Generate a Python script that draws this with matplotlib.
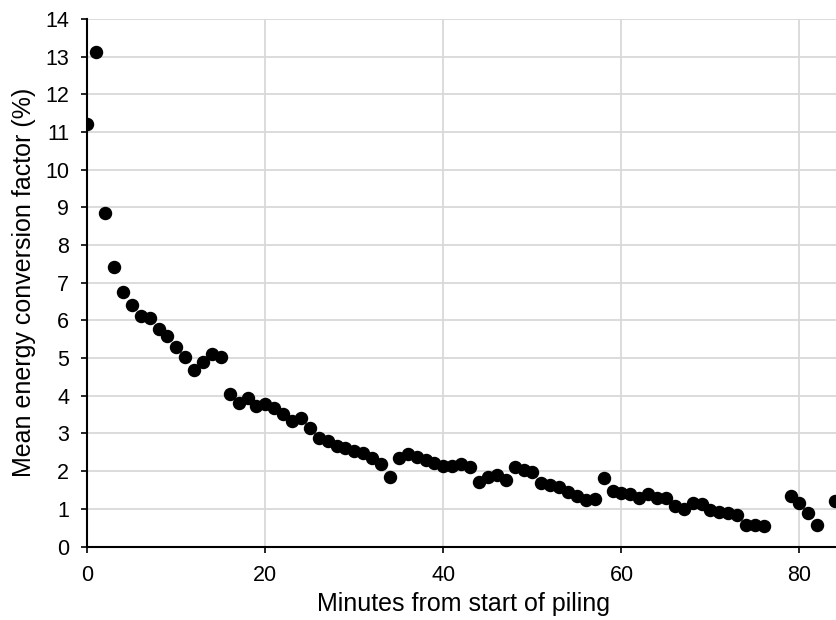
import numpy as np
import matplotlib.pyplot as plt

plt.rcParams['font.family'] = ['Liberation Sans', 'DejaVu Sans']

# --- Data ---
minutes = [0, 1, 2, 3, 4, 5, 6, 7, 8, 9,
           10, 11, 12, 13, 14, 15, 16, 17, 18, 19,
           20, 21, 22, 23, 24, 25, 26, 27, 28, 29,
           30, 31, 32, 33, 34, 35, 36, 37, 38, 39,
           40, 41, 42, 43, 44, 45, 46, 47, 48, 49,
           50, 51, 52, 53, 54, 55, 56, 57, 58, 59,
           60, 61, 62, 63, 64, 65, 66, 67, 68, 69,
           70, 71, 72, 73, 74, 75, 76, 79, 80, 81,
           82, 84]
conversion = [11.21, 13.13, 8.84, 7.41, 6.76, 6.41, 6.13, 6.06, 5.77, 5.60,
              5.30, 5.02, 4.68, 4.89, 5.10, 5.02, 4.04, 3.82, 3.95, 3.74,
              3.77, 3.68, 3.51, 3.33, 3.40, 3.14, 2.87, 2.80, 2.67, 2.61,
              2.54, 2.49, 2.34, 2.18, 1.84, 2.34, 2.45, 2.38, 2.30, 2.22,
              2.15, 2.14, 2.18, 2.11, 1.72, 1.85, 1.90, 1.76, 2.12, 2.03,
              1.97, 1.68, 1.62, 1.58, 1.45, 1.35, 1.23, 1.25, 1.81, 1.47,
              1.41, 1.39, 1.30, 1.39, 1.28, 1.28, 1.07, 0.99, 1.16, 1.13,
              0.97, 0.92, 0.90, 0.84, 0.57, 0.57, 0.54, 1.35, 1.16, 0.90,
              0.57, 1.21]

fig = plt.figure(figsize=(8.36, 6.2), dpi=100)
ax = fig.add_axes([0.1044, 0.1185, 0.8956, 0.8509])

ax.scatter(minutes, conversion, s=75, color='black', zorder=3)

ax.set_xlim(0, 84.1)
ax.set_ylim(0, 14)
ax.set_xticks(np.arange(0, 81, 20))
ax.set_yticks(np.arange(0, 15, 1))

ax.grid(True, color='#d9d9d9', linewidth=1.3)
ax.set_axisbelow(True)

for side in ['top', 'right']:
    ax.spines[side].set_visible(False)
for side in ['left', 'bottom']:
    ax.spines[side].set_linewidth(1.5)
    ax.spines[side].set_color('black')

ax.tick_params(direction='out', length=4, width=1.2, labelsize=15.5, colors='black')
ax.tick_params(axis='y', pad=9)
ax.tick_params(axis='x', pad=9)

ax.set_xlabel('Minutes from start of piling', fontsize=18)
ax.set_ylabel('Mean energy conversion factor (%)', fontsize=18)
ax.xaxis.set_label_coords(0.502, -0.087)
ax.yaxis.set_label_coords(-0.069, 0.5)

plt.savefig('out.png', dpi=100)
